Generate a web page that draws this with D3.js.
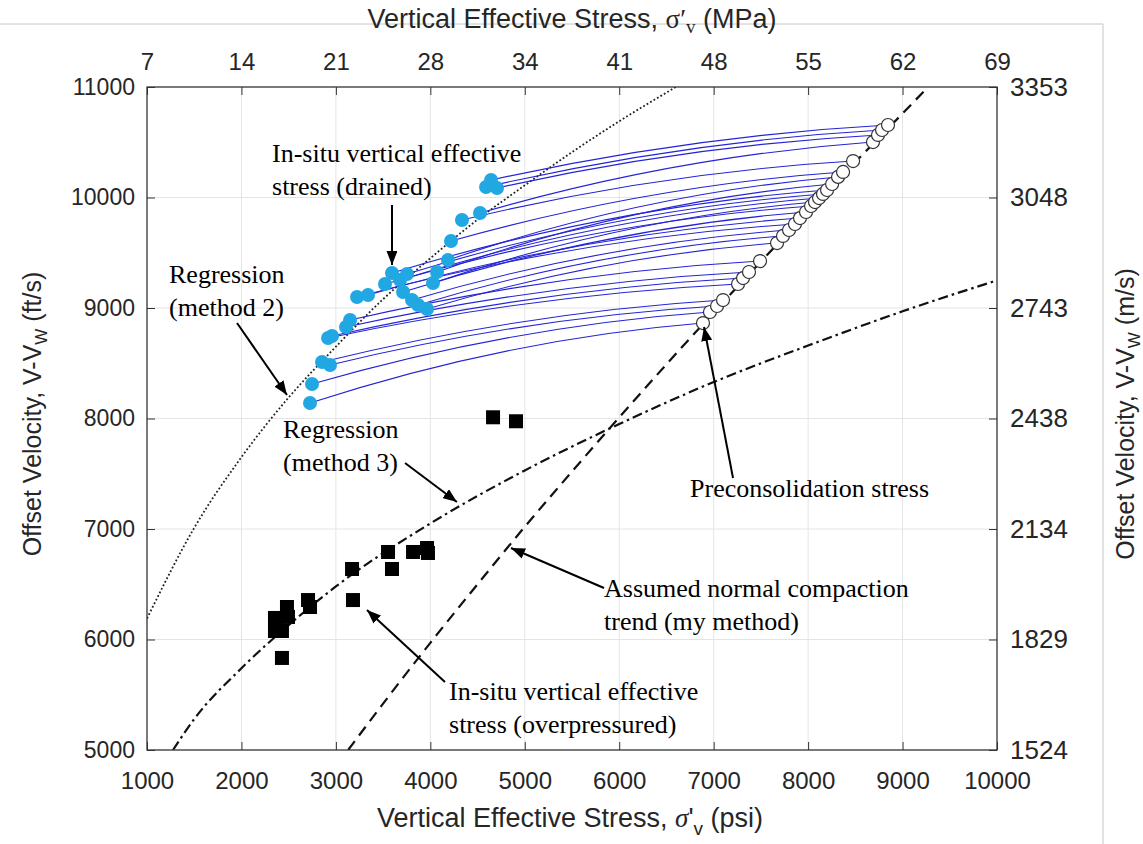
<!DOCTYPE html>
<html>
<head>
<meta charset="utf-8">
<script src="https://cdnjs.cloudflare.com/ajax/libs/d3/7.8.5/d3.min.js"></script>
<style>
  body { margin: 0; background: #fff; }
  svg { display: block; }
</style>
</head>
<body>
<svg id="chart"></svg>
<script>
// ticks
const psiTicks = [1000, 2000, 3000, 4000, 5000, 6000, 7000, 8000, 9000, 10000];
const mpaLabels = ["7", "14", "21", "28", "34", "41", "48", "55", "62", "69"];
const velTicks = [5000, 6000, 7000, 8000, 9000, 10000, 11000];
const msLabels = ["1524", "1829", "2134", "2438", "2743", "3048", "3353"];

// in-situ drained (blue), paired index by index with preconsolidation points
const drainedPsi = [2726, 2747, 2938, 2853, 2917, 2959, 3107, 3150, 3965, 3870, 3806, 3224, 3340, 3711, 3520, 4028, 3679, 3753, 3594, 4071, 4187, 4219, 4335, 4526, 4706, 4590, 4643];
const drainedVel = [8140, 8312, 8484, 8511, 8729, 8747, 8828, 8891, 8991, 9027, 9072, 9100, 9118, 9145, 9217, 9226, 9253, 9308, 9317, 9326, 9434, 9606, 9796, 9860, 10086, 10095, 10158];
const preconPsi = [6887, 6961, 7036, 7099, 7258, 7311, 7374, 7491, 7671, 7734, 7798, 7861, 7914, 7978, 8031, 8073, 8116, 8158, 8201, 8254, 8317, 8370, 8476, 8687, 8740, 8783, 8846];
const preconVel = [8864, 8964, 9018, 9072, 9217, 9271, 9326, 9425, 9588, 9652, 9706, 9760, 9814, 9869, 9923, 9959, 9995, 10032, 10068, 10122, 10186, 10231, 10330, 10502, 10566, 10611, 10656];

// in-situ overpressured (black squares)
const overPsi = [4664, 4907, 3552, 3594, 3817, 3965, 3975, 3171, 3181, 2705, 2726, 2482, 2493, 2355, 2355, 2429, 2429];
const overVel = [8011, 7975, 6792, 6638, 6792, 6828, 6783, 6638, 6357, 6357, 6294, 6294, 6204, 6195, 6077, 6077, 5833];

// curves
const method2Psi = [1000, 1500, 2000, 2500, 3000, 3500, 4000, 4500, 5000, 5500, 6000, 6600];
const method2Vel = [6190, 7010, 7650, 8190, 8650, 9080, 9450, 9800, 10110, 10410, 10690, 11000];
const method3Psi = [1275, 1500, 2000, 2500, 3000, 4000, 5000, 6000, 7000, 8000, 9000, 10000];
const method3Vel = [5000, 5280, 5740, 6130, 6480, 7050, 7530, 7950, 8330, 8660, 8970, 9250];
const compPsi = [3130, 3500, 4000, 4500, 5000, 5500, 6000, 6500, 7000, 7500, 8000, 8500, 9000, 9270];
const compVel = [5000, 5420, 5970, 6500, 7020, 7520, 8010, 8490, 8960, 9420, 9870, 10320, 10760, 11000];

const W = 1143, H = 844;
const svg = d3.select("#chart").attr("width", W).attr("height", H)
  .style("font-family", "'Liberation Sans', Arial, sans-serif");

const x = d3.scaleLinear().domain([1000, 10000]).range([147, 997]);
const y = d3.scaleLinear().domain([5000, 11000]).range([750, 87]);

// outer screenshot border
svg.append("path").attr("d", `M0,24H1103V${H}`).attr("fill", "none").attr("stroke", "#c6c6c6").attr("stroke-width", 1);

const defs = svg.append("defs");
defs.append("clipPath").attr("id", "plot").append("rect")
  .attr("x", x(1000)).attr("y", y(11000)).attr("width", x(10000) - x(1000)).attr("height", y(5000) - y(11000));
defs.append("marker").attr("id", "arr").attr("markerUnits", "userSpaceOnUse")
  .attr("viewBox", "0 0 14 11").attr("refX", 14).attr("refY", 5.5)
  .attr("markerWidth", 14).attr("markerHeight", 11).attr("orient", "auto")
  .append("path").attr("d", "M0,0L14,5.5L0,11Z").attr("fill", "#000");

// grid
const grid = svg.append("g").attr("stroke", "#e4e4e4").attr("stroke-width", 1);
grid.selectAll(".gx").data(psiTicks.slice(1, -1)).join("line")
  .attr("x1", d => x(d)).attr("x2", d => x(d)).attr("y1", y(5000)).attr("y2", y(11000));
grid.selectAll(".gy").data(velTicks.slice(1, -1)).join("line")
  .attr("x1", x(1000)).attr("x2", x(10000)).attr("y1", d => y(d)).attr("y2", d => y(d));

// axes
function styleAxis(g, size) {
  g.select(".domain").remove();
  g.selectAll(".tick line").attr("stroke", "#333");
  g.selectAll(".tick text").attr("fill", "#262626").style("font-size", size + "px")
    .style("font-family", "'Liberation Sans', Arial, sans-serif");
}
svg.append("g").attr("transform", `translate(0,${y(5000)})`)
  .call(d3.axisBottom(x).tickValues(psiTicks).tickSize(-8).tickSizeOuter(0).tickPadding(22).tickFormat(d3.format("d")))
  .call(g => styleAxis(g, 24));
svg.append("g").attr("transform", `translate(0,${y(11000)})`)
  .call(d3.axisTop(x).tickValues(psiTicks).tickSize(-8).tickSizeOuter(0).tickPadding(17).tickFormat((d, i) => mpaLabels[i]))
  .call(g => styleAxis(g, 24));
svg.append("g").attr("transform", `translate(${x(1000)},0)`)
  .call(d3.axisLeft(y).tickValues(velTicks).tickSize(-8).tickSizeOuter(0).tickPadding(12).tickFormat(d3.format("d")))
  .call(g => styleAxis(g, 23));
svg.append("g").attr("transform", `translate(${x(10000)},0)`)
  .call(d3.axisRight(y).tickValues(velTicks).tickSize(-8).tickSizeOuter(0).tickPadding(13).tickFormat((d, i) => msLabels[i]))
  .call(g => styleAxis(g, 26));

// curves
const plot = svg.append("g").attr("clip-path", "url(#plot)");
const line = d3.line().x(d => x(d[0])).y(d => y(d[1])).curve(d3.curveMonotoneX);
const zip = (a, b) => a.map((v, i) => [v, b[i]]);
plot.append("path").attr("d", line(zip(method2Psi, method2Vel)))
  .attr("fill", "none").attr("stroke", "#222").attr("stroke-width", 1.8).attr("stroke-dasharray", "1.8,2.2");
plot.append("path").attr("d", line(zip(method3Psi, method3Vel)))
  .attr("fill", "none").attr("stroke", "#111").attr("stroke-width", 2.2).attr("stroke-dasharray", "10,4,2.5,4");
plot.append("path").attr("d", line(zip(compPsi, compVel)))
  .attr("fill", "none").attr("stroke", "#111").attr("stroke-width", 2.2).attr("stroke-dasharray", "11,7");

// unloading paths from in-situ to preconsolidation
const links = drainedPsi.map((p, i) => ({ x0: x(p), y0: y(drainedVel[i]), x1: x(preconPsi[i]), y1: y(preconVel[i]) }));
plot.append("g").selectAll("path").data(links).join("path")
  .attr("d", d => `M${d.x0},${d.y0}Q${d.x0 + 0.5 * (d.x1 - d.x0)},${d.y0 + 0.8 * (d.y1 - d.y0)} ${d.x1},${d.y1}`)
  .attr("fill", "none").attr("stroke", "#2424d6").attr("stroke-width", 1.1);

// markers
plot.append("g").selectAll("circle").data(preconPsi).join("circle")
  .attr("cx", d => x(d)).attr("cy", (d, i) => y(preconVel[i])).attr("r", 6.5)
  .attr("fill", "#fff").attr("stroke", "#333").attr("stroke-width", 1.2);
plot.append("g").selectAll("circle").data(drainedPsi).join("circle")
  .attr("cx", d => x(d)).attr("cy", (d, i) => y(drainedVel[i])).attr("r", 7)
  .attr("fill", "#21a8e2");
plot.append("g").selectAll("rect").data(overPsi).join("rect")
  .attr("x", d => x(d) - 7).attr("y", (d, i) => y(overVel[i]) - 7).attr("width", 14).attr("height", 14)
  .attr("fill", "#000");

// frame
svg.append("rect").attr("x", x(1000)).attr("y", y(11000)).attr("width", x(10000) - x(1000)).attr("height", y(5000) - y(11000))
  .attr("fill", "none").attr("stroke", "#333").attr("stroke-width", 1.3);

// annotations (positions in data units)
const notes = [
  { lines: ["In-situ vertical effective", "stress (drained)"], at: [2324, 10321], from: [3594, 9932], to: [3594, 9389] },
  { lines: ["Regression", "(method 2)"], at: [1233, 9226], from: [1953, 8864], to: [2482, 8213] },
  { lines: ["Regression", "(method 3)"], at: [2440, 7824], from: [3732, 7597], to: [4282, 7244] },
  { lines: ["In-situ vertical effective", "stress (overpressured)"], at: [4198, 5452], from: [4155, 5615], to: [3329, 6267] },
  { lines: ["Assumed normal compaction", "trend (my method)"], at: [5839, 6385], from: [5839, 6466], to: [4854, 6828] },
  { lines: ["Preconsolidation stress"], at: [6750, 7290], from: [7205, 7462], to: [6898, 8828] }
];
const ann = svg.append("g").style("font-family", "'Liberation Serif', 'Times New Roman', serif").style("font-size", "26px");
notes.forEach(n => {
  ann.append("line").attr("x1", x(n.from[0])).attr("y1", y(n.from[1])).attr("x2", x(n.to[0])).attr("y2", y(n.to[1]))
    .attr("stroke", "#000").attr("stroke-width", 2).attr("marker-end", "url(#arr)");
  const t = ann.append("text").attr("x", x(n.at[0])).attr("y", y(n.at[1])).attr("fill", "#000");
  n.lines.forEach((s, i) => t.append("tspan").attr("x", x(n.at[0])).attr("dy", i ? 33 : 0).text(s));
});

// axis titles
const serif = "'Liberation Serif', 'Times New Roman', serif";
const topTitle = svg.append("text").attr("x", 572).attr("y", 28).attr("text-anchor", "middle")
  .attr("fill", "#262626").style("font-size", "27px");
topTitle.append("tspan").text("Vertical Effective Stress, ");
topTitle.append("tspan").style("font-family", serif).text("σ′");
topTitle.append("tspan").style("font-family", serif).style("font-size", "19px").attr("dy", 5).text("v");
topTitle.append("tspan").attr("dy", -5).text(" (MPa)");

const botTitle = svg.append("text").attr("x", 570).attr("y", 827).attr("text-anchor", "middle")
  .attr("fill", "#262626").style("font-size", "27px");
botTitle.append("tspan").text("Vertical Effective Stress, ");
botTitle.append("tspan").style("font-family", serif).style("font-style", "italic").text("σ");
botTitle.append("tspan").text("'");
botTitle.append("tspan").style("font-size", "19px").attr("dy", 8).text("v");
botTitle.append("tspan").attr("dy", -8).text(" (psi)");

function velTitle(tx, unit) {
  const t = svg.append("text").attr("transform", `translate(${tx},414) rotate(-90)`).attr("text-anchor", "middle")
    .attr("fill", "#262626").style("font-size", "25px");
  t.append("tspan").text("Offset Velocity, V-V");
  t.append("tspan").style("font-size", "17px").attr("dy", 6).text("W");
  t.append("tspan").attr("dy", -6).text(` (${unit})`);
}
velTitle(41, "ft/s");
velTitle(1134, "m/s");
</script>
</body>
</html>
